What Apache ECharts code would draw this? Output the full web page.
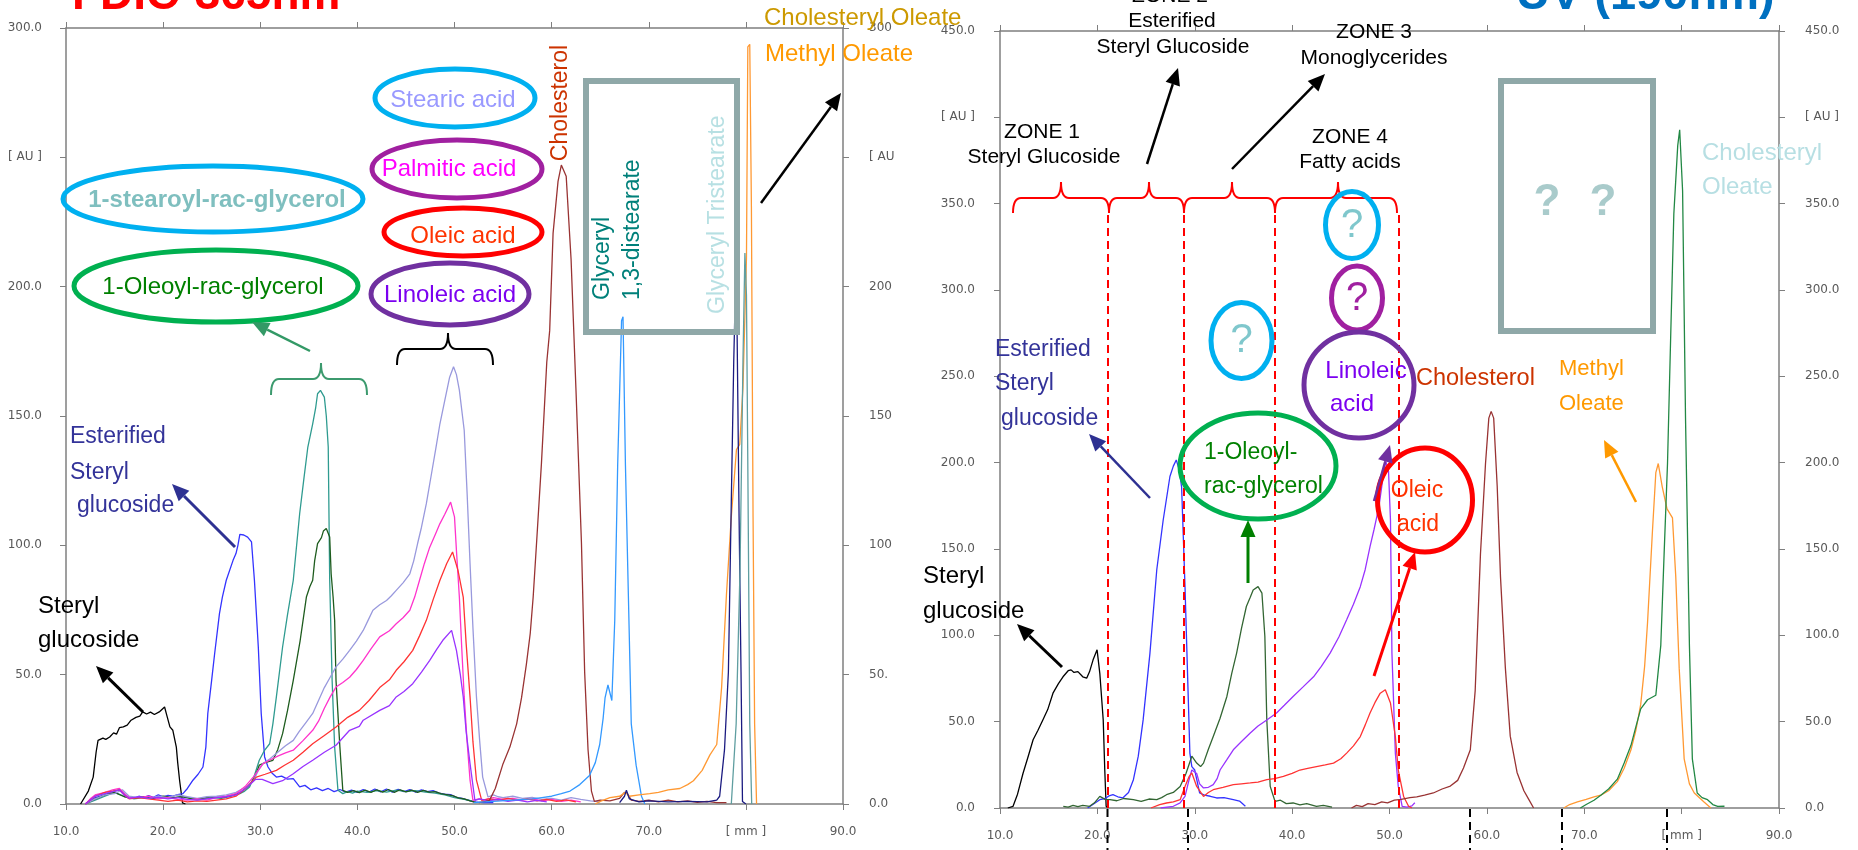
<!DOCTYPE html>
<html>
<head>
<meta charset="utf-8">
<script src="https://cdn.jsdelivr.net/npm/echarts@6/dist/echarts.min.js"></script>
<style>
  html, body { margin: 0; padding: 0; background: #fff; }
  #chart { width: 1858px; height: 850px; }
</style>
</head>
<body>
<div id="chart"></div>
<script>
// ── 刻度 ──
const xTicksMm = [10, 20, 30, 40, 50, 60, 70, 80, 90];
const fdicYMax = 300;
const uvYMax = 450;

// ── FDIC-365nm 色谱曲线 [mm, AU] ──
const fdicSterylGlucoside = [[11.5,0],[11.7,0.5],[12.3,5],[12.8,10.4],[13.1,20],[13.3,24.6],[13.8,25.5],[14.1,25],[14.5,25.9],[14.9,27.5],[15.2,27],[15.5,29.5],[15.9,29.8],[16.3,30.5],[16.7,32.4],[17.2,33.5],[17.6,34],[17.9,35.6],[18.3,34.8],[18.7,35.5],[19.1,34.6],[19.6,35.6],[20.15,37.5],[20.4,34],[20.7,29.8],[21,28.5],[21.2,27.8],[21.36,22],[21.5,16],[21.7,9],[22,0.4],[22.3,0]];
const fdicEsterifiedSG = [[12,0],[12.5,1.5],[13,2.5],[14,3.5],[14.5,4.5],[15,5],[15.5,5.5],[16,4],[16.3,2.5],[17,2.2],[17.5,3],[18,2.5],[18.5,3.2],[19,2.6],[19.5,3.5],[20,2.8],[20.5,3.3],[21,3],[21.5,3.6],[22.04,4],[22.5,6],[23.07,9.2],[23.6,11.5],[24.1,14.3],[24.4,22],[24.6,35],[25,48],[25.3,58],[25.8,73.6],[26.1,80],[26.5,86.5],[27.2,94.2],[27.5,96.8],[27.7,100],[27.9,104.2],[28.3,104],[28.7,103.2],[29.1,101.3],[29.4,86.5],[29.8,60.7],[30.1,35],[30.45,18.2],[30.8,14.3],[31.2,12],[31.66,10.4],[32.2,10.8],[32.8,9.6],[33.4,9.8],[34.06,6.6],[34.6,7.2],[35.2,5.5],[35.8,6.2],[36.4,5.2],[37,6],[37.6,4.8],[38.2,5.6],[38.8,4.6],[39.4,5.4],[40,4.5],[40.6,5.6],[41.2,4.6],[41.8,5.8],[42.4,4.7],[43,5.8],[43.6,4.6],[44.2,5.7],[44.8,4.8],[45.4,5.6],[46,4.6],[46.6,5.5],[47.2,4.8],[47.8,5.2],[48.4,4.2],[49,3.8],[49.6,3.6],[50.2,2.6],[50.8,2.2],[51.4,1.5],[52,0.8],[53,0.5],[54,0.5]];
const fdicStearoylGlycerol = [[12,0],[13,1.5],[14,3],[15,4.5],[16,3],[17,2],[18,2.5],[19,2],[20,2.8],[21,2.2],[22,3],[23,2.2],[24,1.8],[25,2.5],[26,2.2],[27,3],[27.9,4],[28.4,5],[28.9,6.6],[29.4,11],[29.9,16.9],[30.4,20.5],[30.97,23.3],[31.3,31],[31.66,41.4],[32.3,60.7],[32.8,73],[33.4,86.5],[34.06,112.3],[34.5,126],[34.9,138],[35.4,147],[35.7,153],[35.9,158.6],[36.2,159.9],[36.6,157.3],[36.8,150],[37,138],[37.15,86.5],[37.4,47.8],[37.66,22],[38,5.3],[38.5,4],[39,4.8],[39.5,4.2],[40,5],[41,4.5],[42,5.2],[43,4.6],[44,5.4],[45,4.8],[46,5.2],[47,4.6],[48,4.2],[49,3.5],[50,2.5],[51,1.8],[52,1]];
const fdicOleoylGlycerol = [[12,0],[13,2],[14,3.5],[15,4.5],[16,2.8],[17,2.2],[18,2.8],[19,2.2],[20,3],[21,2.5],[22,2.8],[23,2],[24,2.2],[25,2.8],[26,2.5],[27,3.2],[28,4.5],[28.8,7],[29.4,10],[29.9,15],[30.5,16],[31.3,16.9],[31.8,21],[32.3,27.2],[32.8,36],[33.4,47.8],[34.1,63],[34.75,80],[35.1,84],[35.4,86.5],[35.6,94],[35.9,100.7],[36.3,103],[36.5,105.5],[36.8,106.5],[37.15,103.2],[37.3,89],[37.5,80],[37.66,71],[37.8,47.8],[38.2,22],[38.5,5.3],[39,4.5],[39.6,5.2],[40.2,4.4],[40.8,5.4],[41.4,4.5],[42,5.5],[42.6,4.6],[43.2,5.6],[43.8,4.5],[44.4,5.5],[45,4.7],[45.6,5.4],[46.2,4.5],[46.8,5.3],[47.4,4.6],[48,4.8],[48.6,4],[49.2,3.6],[49.8,3.2],[50.4,2.4],[51,2],[51.6,1.2],[52.2,0.6]];
const fdicStearicAcid = [[12,0],[13,2],[14,3.5],[15,4],[15.8,5.5],[16.5,3],[17.5,2.5],[18.5,2.2],[19.5,3],[20.5,2.5],[21.5,3.5],[22.5,2.8],[23.5,2.2],[24.5,2.8],[25.5,3],[26.5,3.5],[27.5,4.5],[28.5,6.5],[29.3,9],[29.8,13],[30.28,15.6],[31,17.5],[31.8,20],[32.6,22.5],[33.4,24.6],[34,28],[34.7,31.5],[35.4,35],[36,40],[36.6,45],[37.2,49],[37.8,53],[38.5,56],[39.2,59.4],[39.9,63],[40.6,67.1],[41.1,71],[41.6,74.9],[42.3,77],[43,78.7],[43.5,80.5],[44,82.6],[44.7,85.5],[45.4,89],[45.8,94],[46.2,100.7],[46.6,107],[47.1,116.1],[47.6,127],[48.1,138],[48.5,147],[49,156],[49.5,165],[49.9,169],[50.2,166],[50.5,160],[51,144.5],[51.3,120],[51.6,93],[51.9,68],[52.26,41.4],[52.6,24],[52.9,10.4],[53.45,2.7],[54,3.5],[54.5,2.8],[55,2.5],[56,3],[57,2.2],[58,2.6],[59,1.8],[60,2.2],[61,1.5],[62,2.5],[63,1.8],[64,1.2],[65,0.8]];
const fdicPalmiticAcid = [[12,0],[12.5,2],[13,3.5],[14,4.5],[14.8,5.5],[15.5,6],[16,4],[16.5,2.5],[17.5,2.5],[18.5,3],[19.5,2],[20.5,2.5],[21.5,1.8],[22.5,1.5],[23.5,2],[24.5,1.5],[25.5,2.5],[26.5,3],[27.5,4],[28.5,7],[29.3,10.5],[30.3,15.6],[31,17],[31.8,18.5],[32.6,19.8],[33.4,20.8],[34.4,24.5],[35.4,28.5],[36,32],[36.6,37],[37.2,41.4],[37.8,45.2],[38.5,47],[39.2,49],[39.9,52],[40.6,55.5],[41.4,60],[42.3,64.6],[43.3,67],[44,69.7],[44.7,72],[45.4,74.9],[45.9,80],[46.4,86.5],[46.9,93],[47.45,99.3],[48,104],[48.5,108.4],[49,112],[49.6,116.7],[50,111],[50.2,98],[50.5,80],[50.75,60],[51,41.4],[51.3,24],[51.6,9.2],[51.9,1.4],[52.5,2],[53,1.5],[54,2.5],[55,1.8],[56,2.2],[57,1.5],[58,2],[59,1.2],[60,1.8],[61,1],[62,1.5],[63,0.8]];
const fdicOleicAcid = [[12,0],[12.5,1.5],[13,3],[14,4.5],[14.8,5],[15.5,5.5],[16,3.5],[16.5,2],[17.5,2.5],[18.5,2],[19.5,1.5],[20.5,1],[21.5,1.5],[22.5,0.8],[23.5,1.2],[24.5,1],[25.5,1.5],[26.5,2],[27.5,3],[28.5,6],[29.6,10.4],[30.5,11.5],[31.66,13],[32.5,15],[33.4,16.9],[34.4,20],[35.4,23.3],[36.6,26.5],[37.8,29.8],[39,33.5],[40.2,36.2],[41.2,40],[42.3,45],[43.3,48],[44,51.7],[44.8,55],[45.7,59.4],[46.4,65],[47.1,71],[47.8,79],[48.5,86.5],[49.2,93],[49.8,97.4],[50.36,90.3],[50.9,80],[51.2,62],[51.6,41.4],[51.9,24],[52.26,9.2],[52.8,1.4],[53.5,2],[54.5,1.5],[55.5,2.2],[56.5,1.4],[57.5,2],[58.5,1.2],[59.5,1.8],[60.5,1],[61.5,1.6],[62.5,0.8]];
const fdicLinoleicAcid = [[12,0],[12.5,1.5],[13,3],[14,4],[15,5],[15.5,5.5],[16,3.5],[16.5,2.2],[17.5,2.8],[18.5,2.2],[19.5,2.6],[20.5,2],[21.5,2.5],[22.5,1.8],[23.5,1.5],[24.5,2],[25.5,2.5],[26.5,2.8],[27.5,3.5],[28.5,6],[29.5,9.5],[30.2,9.5],[31.3,7.9],[32.3,9],[33.4,11.7],[34.4,14.5],[35.4,16.9],[36.6,20],[37.8,22.7],[39.2,28.5],[40.2,30],[40.6,32.4],[42.3,36.2],[43.3,38],[44,41.4],[44.8,43.5],[45.7,46.5],[46.6,51],[47.45,55.5],[48.2,60],[48.8,63.3],[49.7,67.1],[50.2,59.4],[50.6,50],[50.9,41.4],[51.2,28],[51.6,15.6],[52.1,1.4],[52.6,2],[53.5,1.2],[54.5,1.8],[55.5,1],[56.5,1.5],[57.5,0.8],[58.5,1.4],[59.5,0.8]];
const fdicCholesterol = [[52.5,0.5],[53.2,1],[53.6,1.4],[54.2,6],[55,15.6],[55.7,22],[56.4,31],[56.9,41],[57.4,54],[57.8,66],[58.1,80],[58.5,104],[58.95,131.6],[59.5,170.8],[59.8,183],[60.15,220.7],[60.66,240.7],[61,247],[61.5,242.7],[62,210.8],[62.5,160.8],[63.07,101],[63.4,51],[63.75,21],[64.1,5],[64.4,1],[65,1.5],[66,1.2],[67,2.2],[67.5,4.5],[67.8,4],[68.2,1.5],[69,1],[70,1.5],[71,0.8],[72,1.5],[73,0.8],[74,1.2],[75,0.6],[76,1],[77,0.5],[78,0.5]];
const fdicDistearate = [[52,0.5],[54,1],[56,1.5],[58,2],[59,2.5],[60,3],[61,4],[61.9,5],[62.9,7.5],[63.9,11],[64.5,16],[64.95,23],[65.3,33],[65.5,41],[65.8,46],[66,43],[66.2,40],[66.5,71],[66.8,131],[67.2,186.8],[67.35,188.4],[67.6,131],[67.9,81],[68.2,31],[68.7,15],[69.25,3],[69.6,0]];
const fdicMethylOleate = [[64.5,0],[65,1],[66,2.5],[67,3],[67.6,4.5],[68,3],[69,3.5],[70.1,4],[71,4.5],[72,5.5],[73.2,6],[74,7.5],[74.6,9],[75.5,13],[76.3,19],[77,23],[77.5,45],[78,81],[78.5,111],[79.03,137],[79.37,139],[79.7,161],[80.06,211],[80.2,292.7],[80.4,293.7],[80.57,230.8],[80.74,111],[80.9,31],[81.1,0]];
const fdicCholesterylOleate = [[67,0.5],[67.5,3],[67.7,5.3],[68,2],[69,0.8],[70,1.2],[72,0.8],[74,1],[76,0.8],[77,1.5],[77.3,3],[77.8,21],[78.2,51],[78.5,117],[78.75,171],[78.96,205],[79.1,181],[79.3,111],[79.5,51],[79.65,1],[80,0]];
const fdicTristearate = [[78.5,0],[78.7,0.5],[79,31],[79.4,91],[79.7,171],[79.9,213],[80.06,196.8],[80.2,131],[80.4,31],[80.6,0]];

// ── UV 190nm 色谱曲线 [mm, AU] ──
const uvSterylGlucoside = [[10.8,0],[11.33,0.9],[11.8,8],[12.36,20],[12.9,30],[13.4,39.5],[13.9,45],[14.4,51],[14.9,57],[15.44,66.5],[16,72],[16.47,76],[17,79.5],[17.3,80],[17.6,78.5],[18,79],[18.5,76],[18.9,75.2],[19.2,79],[19.56,85.8],[19.97,91.6],[20.25,78],[20.6,51],[20.76,22],[20.9,1],[21.1,0]];
const uvEsterifiedSG = [[19,0],[19.2,1],[19.8,3],[20.25,4.8],[20.8,5.5],[21.2,7],[21.6,7.7],[22.1,6.5],[22.6,5.8],[23.2,9],[23.7,16.4],[24.2,30],[24.7,51],[25.4,89.7],[26.1,138],[26.76,166.8],[27.45,192],[27.8,198],[28.1,201.6],[28.4,196],[28.65,186],[29,128],[29.3,70],[29.5,31.8],[29.7,24],[30,22],[30.3,14],[30.5,8.7],[31,7.5],[31.6,6.8],[32.25,5.8],[33,6],[33.96,4.8],[34.6,4],[35.2,1]];
const uvOleoylGlycerol = [[16.5,1],[17,0.5],[17.5,1.5],[18,0.8],[18.5,1.5],[19.2,1],[19.7,3],[20.25,6.7],[20.8,5],[21.3,4.8],[22,4.2],[22.7,5.5],[23.7,4.8],[24.5,3.8],[25.3,5.2],[26.1,4.8],[26.6,6],[27.1,7.7],[27.8,9],[28.5,12.5],[29.1,20],[29.7,30],[30.2,26],[30.6,24],[30.9,26],[31.4,34],[31.9,41.4],[32.6,52],[33.3,64.6],[33.8,78],[34.3,89.7],[34.8,104],[35.3,116.7],[35.7,122],[36,126.3],[36.5,128.2],[36.9,124.4],[37.2,99.3],[37.4,51],[37.75,12.5],[38.25,3.8],[38.8,4.5],[39.4,2.5],[40.1,2.9],[40.8,1.8],[41.5,2.5],[42.5,1],[43.2,1.5],[44.1,0.5]];
const uvLinoleicAcid = [[26.5,0],[27.8,1],[28.5,3],[29,6.7],[29.4,16],[29.7,22],[30.2,20],[30.5,14],[30.9,11.6],[31.4,12],[31.9,13.5],[32.3,17],[32.6,22],[33.3,28],[33.96,33.7],[34.8,38.5],[35.7,43.4],[36.5,47.5],[37.4,51],[38.4,55],[39.2,59.5],[40.1,64.6],[41.1,70],[42.2,76],[43,82],[43.9,89.7],[44.8,99],[45.6,109],[46.3,118],[47,128.2],[47.5,138],[48,151.4],[48.4,161],[48.7,168.8],[49,178],[49.3,190],[49.6,201],[49.9,195],[50.1,166.8],[50.25,89.7],[50.6,31.8],[50.9,12.5],[51.3,1],[51.8,0.5],[52.3,1.2],[52.6,3]];
const uvOleicAcid = [[25.5,0],[25.7,1],[26.4,2],[27.1,2.9],[27.8,3.5],[28.5,4.8],[29,12.5],[29.4,18],[29.7,20.3],[30.2,12.5],[30.9,6.7],[31.4,9],[31.9,10.6],[32.9,12],[33.96,13.5],[34.8,14],[35.7,14.5],[36.5,15],[37.4,16.4],[38.2,17],[39.1,18.3],[40,20],[40.8,22],[41.6,23],[42.5,24],[43.4,25],[44.25,26],[45,28.5],[45.6,31.8],[46.3,36],[47,41.4],[47.5,48],[48,55],[48.5,61],[49.05,66.5],[49.57,68.5],[50.1,60.8],[50.6,41.4],[50.9,22],[51.45,6.7],[51.96,1],[52.3,0]];
const uvCholesterol = [[46.1,0],[46.6,1.5],[47.2,0.8],[47.8,2.5],[48.5,2],[49.2,3.5],[49.8,3],[50.5,4.5],[51.2,5],[52.1,6],[52.8,6.5],[53.6,7.5],[54.5,8.7],[55.4,11],[56.25,12.7],[57,16],[57.6,23.2],[58.3,33.7],[58.8,68],[59.34,146.9],[59.86,199.5],[60.2,225.8],[60.44,229.7],[60.7,225.8],[61.06,186.3],[61.4,133.7],[61.9,81],[62.4,41.6],[63.1,20.6],[63.8,10],[64.3,5],[64.8,0]];
const uvMethylOleate = [[67.9,0],[68.5,2],[69.3,3.5],[70.2,5],[71,6.5],[71.7,7.4],[72.5,10],[73.4,15.3],[74.1,23],[74.8,33.7],[75.3,45],[75.8,60],[76.2,82],[76.5,107.4],[77,160],[77.35,194.2],[77.6,199.5],[78,186.3],[78.5,173.2],[79.06,168],[79.4,133.7],[79.75,81],[80.26,28.5],[80.8,14],[81.3,8.7],[82.3,3.5],[83,0]];
const uvCholesterylOleate = [[69.6,0],[70.2,2],[71,4.5],[71.7,7.4],[72.5,11],[73.4,16.7],[74.1,26],[74.8,36.3],[75.3,47],[75.8,57.4],[76.5,62.7],[77.35,65.3],[77.86,94.2],[78.2,146.9],[78.55,199.5],[78.9,278.4],[79.2,344],[79.6,383.6],[79.8,392.8],[80.1,357.3],[80.4,225.8],[80.8,94.2],[81.1,28.5],[81.6,8.7],[82.1,6],[82.66,4.8],[83.2,2],[83.7,0.9],[84.4,1]];

const FONT = '"Liberation Sans", Arial, sans-serif';
const AXIS_GREY = "#7f7f7f";

// 曲线：数据, 颜色, 面板
const curves = [
  [fdicSterylGlucoside, "#000000", 0],
  [fdicEsterifiedSG, "#3333ff", 0],
  [fdicStearoylGlycerol, "#2f9b90", 0],
  [fdicOleoylGlycerol, "#1e5c1e", 0],
  [fdicStearicAcid, "#9999dd", 0],
  [fdicPalmiticAcid, "#ff33cc", 0],
  [fdicOleicAcid, "#ff3333", 0],
  [fdicLinoleicAcid, "#9933ff", 0],
  [fdicCholesterol, "#993333", 0],
  [fdicDistearate, "#3399ff", 0],
  [fdicMethylOleate, "#ff9933", 0],
  [fdicCholesterylOleate, "#1a1a80", 0],
  [fdicTristearate, "#5f9ea0", 0],
  [uvSterylGlucoside, "#000000", 1],
  [uvEsterifiedSG, "#3333ff", 1],
  [uvOleoylGlycerol, "#336633", 1],
  [uvLinoleicAcid, "#9933ff", 1],
  [uvOleicAcid, "#ff3333", 1],
  [uvCholesterol, "#993333", 1],
  [uvMethylOleate, "#ff9933", 1],
  [uvCholesterylOleate, "#228844", 1],
];

function xAxisOpt(grid, pos) {
  return {
    type: "value", gridIndex: grid, position: pos,
    min: xTicksMm[0], max: xTicksMm[xTicksMm.length - 1], interval: 10,
    axisLine: { show: true, onZero: false, lineStyle: { color: AXIS_GREY, width: 1.5 } },
    axisTick: { show: true, length: 6, lineStyle: { color: AXIS_GREY } },
    axisLabel: {
      show: pos === "bottom", margin: 22, color: "#595959",
      fontFamily: "DejaVu Sans", fontSize: 12,
      formatter: (v) => (v === 80 ? "[ mm ]" : v.toFixed(1)),
    },
    splitLine: { show: false },
  };
}

function yAxisOpt(grid, pos, max, auAt, margin, fmt) {
  return {
    type: "value", gridIndex: grid, position: pos, min: 0, max, interval: 50,
    axisLine: { show: true, lineStyle: { color: AXIS_GREY, width: 1.5 } },
    axisTick: { show: true, length: 6, lineStyle: { color: AXIS_GREY } },
    axisLabel: {
      margin, color: "#595959", fontFamily: "DejaVu Sans", fontSize: 12,
      formatter: fmt || ((v) => (v === auAt ? "[ AU ]" : v.toFixed(1))),
    },
    splitLine: { show: false },
  };
}

// 左图右侧刻度被右图遮住一半
const clippedRight = { 0: "0.0", 50: "50.", 100: "100", 150: "150", 200: "200", 250: "[ AU", 300: "300" };

// ── 标注工具 ──
function txt(x, y, s, color, size, o = {}) {
  const align = o.align || "center";
  return {
    type: "text", x, y, rotation: o.rot || 0, z: 100,
    style: {
      text: s, fill: color, font: `${o.bold ? "bold " : ""}${size}px ${FONT}`,
      align, textAlign: align, verticalAlign: "middle", textVerticalAlign: "middle",
    },
  };
}
function ring(cx, cy, rx, ry, color, w) {
  return { type: "ellipse", z: 90, shape: { cx, cy, rx, ry }, style: { fill: "none", stroke: color, lineWidth: w || 5 } };
}
function arrow(x1, y1, x2, y2, color, w) {
  const a = Math.atan2(y2 - y1, x2 - x1), L = 17, H = 7.5;
  const bx = x2 - L * Math.cos(a), by = y2 - L * Math.sin(a);
  return [
    { type: "line", z: 95, shape: { x1, y1, x2: bx, y2: by }, style: { stroke: color, lineWidth: w } },
    { type: "polygon", z: 95, shape: { points: [[x2, y2], [bx + H * Math.sin(a), by - H * Math.cos(a)], [bx - H * Math.sin(a), by + H * Math.cos(a)]] }, style: { fill: color } },
  ];
}
function brace(x1, x2, tx, ty, hy, ey, color) {
  const r = 8, s = { stroke: color, lineWidth: 2, fill: "none" };
  return [
    { type: "bezierCurve", shape: { x1, y1: ey, cpx1: x1, cpy1: hy, x2: x1 + r, y2: hy }, style: s },
    { type: "line", shape: { x1: x1 + r, y1: hy, x2: tx - r, y2: hy }, style: s },
    { type: "bezierCurve", shape: { x1: tx - r, y1: hy, cpx1: tx, cpy1: hy, x2: tx, y2: ty }, style: s },
    { type: "bezierCurve", shape: { x1: tx, y1: ty, cpx1: tx, cpy1: hy, x2: tx + r, y2: hy }, style: s },
    { type: "line", shape: { x1: tx + r, y1: hy, x2: x2 - r, y2: hy }, style: s },
    { type: "bezierCurve", shape: { x1: x2 - r, y1: hy, cpx1: x2, cpy1: hy, x2, y2: ey }, style: s },
  ];
}
function dashed(x, y1, y2, color) {
  return { type: "line", z: 80, shape: { x1: x, y1, x2: x, y2 }, style: { stroke: color, lineWidth: 2, lineDash: [8, 5] } };
}
function box(x, y, w, h) {
  return { type: "rect", z: 85, shape: { x, y, width: w, height: h }, style: { fill: "none", stroke: "#8fa8a8", lineWidth: 6 } };
}

const UP = Math.PI / 2;
const annotations = [
  // 标题
  txt(72, -4, "FDIC-365nm", "#ff0000", 46, { bold: true, align: "left" }),
  txt(1516, -4, "UV (190nm)", "#0070c0", 47, { bold: true, align: "left" }),

  // ── 左图 ──
  txt(764, 18, "Cholesteryl Oleate", "#cc9900", 24, { align: "left" }),
  txt(765, 54, "Methyl Oleate", "#ff9900", 24, { align: "left" }),
  ...arrow(761, 203, 841, 93, "#000000", 2.5),
  ring(455, 98, 80, 29, "#00b0f0"), txt(453, 100, "Stearic acid", "#9999ff", 24),
  ring(457, 169, 85, 29, "#a020a0"), txt(449, 169, "Palmitic acid", "#ff00ff", 24),
  ring(463, 232, 79, 24, "#ff0000"), txt(463, 236, "Oleic acid", "#ff3300", 24),
  ring(450, 294, 79, 31, "#7030a0"), txt(450, 295, "Linoleic acid", "#7b00f0", 24),
  ring(213, 199, 150, 33, "#00b0f0"), txt(217, 200, "1-stearoyl-rac-glycerol", "#7fbfbf", 24, { bold: true }),
  ring(216, 286, 142, 36, "#00b050"), txt(213, 287, "1-Oleoyl-rac-glycerol", "#008000", 24),
  ...arrow(310, 351, 252, 322, "#339966", 2.5),
  ...brace(271, 367, 321, 363, 379, 395, "#3c9a6e"),
  ...brace(397, 493, 448, 333, 349, 365, "#000000"),
  txt(561, 103, "Cholesterol", "#cc3300", 23, { rot: UP }),
  box(586, 81, 151, 251),
  txt(603, 300, "Glyceryl", "#00807a", 23, { rot: UP, align: "left" }),
  txt(633, 300, "1,3-distearate", "#00807a", 23, { rot: UP, align: "left" }),
  txt(718, 314, "Glyceryl Tristearate", "#b7e0e3", 23, { rot: UP, align: "left" }),
  txt(70, 437, "Esterified", "#333399", 23, { align: "left" }),
  txt(70, 473, "Steryl", "#333399", 23, { align: "left" }),
  txt(77, 506, "glucoside", "#333399", 23, { align: "left" }),
  ...arrow(235, 547, 172, 484, "#2e3192", 3),
  txt(38, 606, "Steryl", "#000000", 24, { align: "left" }),
  txt(38, 640, "glucoside", "#000000", 24, { align: "left" }),
  ...arrow(143, 712, 96, 666, "#000000", 3),

  // ── 右图 ──
  txt(1170, -4, "ZONE 2", "#000000", 21),
  txt(1172, 21, "Esterified", "#000000", 21),
  txt(1173, 47, "Steryl Glucoside", "#000000", 21),
  txt(1374, 32, "ZONE 3", "#000000", 21),
  txt(1374, 58, "Monoglycerides", "#000000", 21),
  txt(1042, 132, "ZONE 1", "#000000", 21),
  txt(1044, 157, "Steryl Glucoside", "#000000", 21),
  txt(1350, 137, "ZONE 4", "#000000", 21),
  txt(1350, 162, "Fatty acids", "#000000", 21),
  ...arrow(1147, 164, 1178, 68, "#000000", 2.5),
  ...arrow(1232, 169, 1325, 74, "#000000", 2.5),
  ...brace(1013, 1109, 1061, 182, 198, 213, "#ff0000"),
  ...brace(1109, 1184, 1149, 182, 198, 213, "#ff0000"),
  ...brace(1184, 1275, 1232, 182, 198, 213, "#ff0000"),
  ...brace(1275, 1397, 1338, 182, 198, 213, "#ff0000"),
  ...[1108, 1184, 1275, 1399].map((x) => dashed(x, 215, 808, "#ff0000")),
  ...[1107.5, 1188, 1470, 1562, 1667].map((x) => dashed(x, 809, 850, "#000000")),
  box(1501, 81, 152, 250),
  txt(1547, 203, "?", "#a9cbcb", 44, { bold: true }),
  txt(1603, 203, "?", "#a9cbcb", 44, { bold: true }),
  txt(1702, 153, "Cholesteryl", "#b7dfe3", 24, { align: "left" }),
  txt(1702, 187, "Oleate", "#b7dfe3", 24, { align: "left" }),
  ring(1352, 225, 26.5, 33.5, "#00b0f0"), txt(1352, 226, "?", "#7fc7cc", 40),
  ring(1357, 298, 25.5, 32, "#a020a0"), txt(1357, 299, "?", "#a020a0", 40),
  ring(1241.5, 340.5, 30.5, 38, "#00b0f0"), txt(1241.5, 341, "?", "#7fc7cc", 40),
  ring(1359, 385, 55, 53, "#7030a0"),
  txt(1366, 371, "Linoleic", "#7b00f0", 24),
  txt(1352, 404, "acid", "#7b00f0", 24),
  txt(1416, 379, "Cholesterol", "#cc3300", 23.5, { align: "left" }),
  txt(1559, 369, "Methyl", "#ff9900", 22, { align: "left" }),
  txt(1559, 404, "Oleate", "#ff9900", 22, { align: "left" }),
  ...arrow(1636, 502, 1604, 440, "#ff9900", 2.5),
  ring(1258, 466, 78, 53, "#00b050"),
  txt(1204, 453, "1-Oleoyl-", "#008000", 23, { align: "left" }),
  txt(1204, 487, "rac-glycerol", "#008000", 23, { align: "left" }),
  ...arrow(1248, 583, 1248, 520, "#008000", 3),
  ...arrow(1374, 501, 1390, 445, "#7030a0", 2.5),
  ring(1425, 500, 47.5, 52, "#ff0000"),
  txt(1417, 491, "Oleic", "#ff3300", 23),
  txt(1418, 525, "acid", "#ff3300", 23),
  ...arrow(1374, 676, 1415, 552, "#ff0000", 3),
  txt(995, 350, "Esterified", "#333399", 23, { align: "left" }),
  txt(995, 384, "Steryl", "#333399", 23, { align: "left" }),
  txt(1001, 419, "glucoside", "#333399", 23, { align: "left" }),
  ...arrow(1150, 498, 1089, 434, "#2e3192", 2.5),
  txt(923, 576, "Steryl", "#000000", 24, { align: "left" }),
  txt(923, 611, "glucoside", "#000000", 24, { align: "left" }),
  ...arrow(1062, 667, 1017, 624, "#000000", 3),
];

const chart = echarts.init(document.getElementById("chart"));
chart.setOption({
  animation: false,
  backgroundColor: "#ffffff",
  grid: [
    { left: 66, top: 28, width: 777, height: 776 },
    { left: 1000, top: 31, width: 779, height: 777 },
  ],
  xAxis: [xAxisOpt(0, "bottom"), xAxisOpt(0, "top"), xAxisOpt(1, "bottom"), xAxisOpt(1, "top")],
  yAxis: [
    yAxisOpt(0, "left", fdicYMax, 250, 24),
    yAxisOpt(0, "right", fdicYMax, 250, 26, (v) => clippedRight[v]),
    yAxisOpt(1, "left", uvYMax, 400, 25),
    yAxisOpt(1, "right", uvYMax, 400, 26),
  ],
  series: curves.map(([data, color, g]) => ({
    type: "line",
    xAxisIndex: g * 2,
    yAxisIndex: g * 2,
    data,
    showSymbol: false,
    lineStyle: { color, width: 1.3 },
    emphasis: { disabled: true },
  })),
  graphic: annotations,
});
</script>
</body>
</html>
